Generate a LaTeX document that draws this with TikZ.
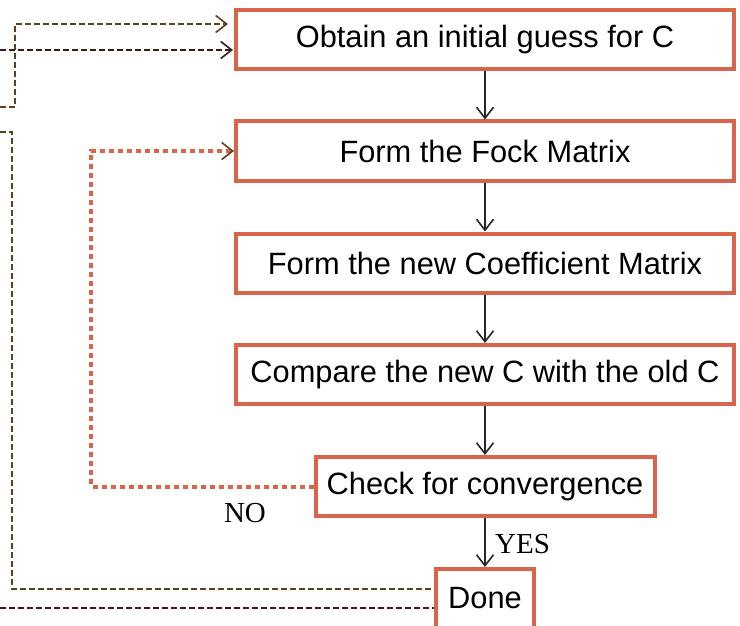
\documentclass[tikz,border=0pt]{standalone}
\usepackage{fontspec}
\setmainfont{Liberation Sans}
\newfontfamily\serifnum{Liberation Serif}
\usetikzlibrary{arrows.meta}
\definecolor{boxred}{HTML}{D9644C}
\definecolor{linebrown}{HTML}{5C4022}
\definecolor{darkbrown}{HTML}{3A1A12}
\tikzset{
  stepbox/.style={draw=boxred, line width=4pt, fill=white, minimum height=59pt,
    inner sep=0pt, font=\fontsize{30.8}{33}\selectfont},
  tip/.style={-{Straight Barb[length=11pt,width=17pt,line width=1.6pt]}},
  flow/.style={draw=black!85, line width=1.3pt, tip},
  brdash/.style={draw=linebrown, line width=1.6pt, dash pattern=on 6pt off 3pt},
  dkdash/.style={draw=darkbrown, line width=1.6pt, dash pattern=on 6pt off 3pt},
  reddot/.style={draw=boxred, line width=4pt, dash pattern=on 5pt off 4pt},
  lbl/.style={font=\serifnum\fontsize{29}{31}\selectfont, inner sep=0pt}
}
\begin{document}
\begin{tikzpicture}[x=1pt,y=-1pt]
\useasboundingbox (0,0) rectangle (740,626);
\node[stepbox, minimum width=498pt] (b1) at (485,39.5) {Obtain an initial guess for C};
\node[stepbox, minimum width=498pt] (b2) at (485,151) {Form the Fock Matrix};
\node[stepbox, minimum width=498pt] (b3) at (485,263) {Form the new Coefficient Matrix};
\node[stepbox, minimum width=498pt] (b4) at (485,374.5) {Compare the new C with the old C};
\node[stepbox, minimum width=339pt] (b5) at (485,486.5) {Check for convergence};
\node[stepbox, minimum width=98pt] (b6) at (485,598.5) {Done};

\draw[flow] (b1.south) -- (b2.north);
\draw[flow] (b2.south) -- (b3.north);
\draw[flow] (b3.south) -- (b4.north);
\draw[flow] (b4.south) -- (b5.north);
\draw[flow] (b5.south) -- (b6.north);

% red dotted NO loop
\coordinate (n1) at (91,486.5);
\coordinate (n2) at (91,151);
\draw[reddot, -{Straight Barb[color=linebrown,length=11pt,width=17pt,line width=1.6pt]}]
  (b5.west) -- (n1) -- (n2) -- (b2.west);

% brown dashed lines on the left
\coordinate (a0) at (0,107);
\coordinate (a1) at (15,107);
\coordinate (a2) at (15,24);
\coordinate (a3) at (228,24);
\draw[brdash, tip] (a0) -- (a1) -- (a2) -- (a3);

\coordinate (c0) at (0,50);
\coordinate (c1) at (233,50);
\draw[dkdash, tip] (c0) -- (c1);

\coordinate (d0) at (0,132);
\coordinate (d1) at (12,132);
\coordinate (d2) at (12,589);
\draw[brdash] (d0) -- (d1) -- (d2) -- (d2 -| b6.west);

\coordinate (e0) at (0,608);
\draw[dkdash] (e0) -- (e0 -| b6.west);

\node[lbl] (no) at (245,513) {NO};
\node[lbl, anchor=west] (yes) at (495,544) {YES};
\end{tikzpicture}
\end{document}
